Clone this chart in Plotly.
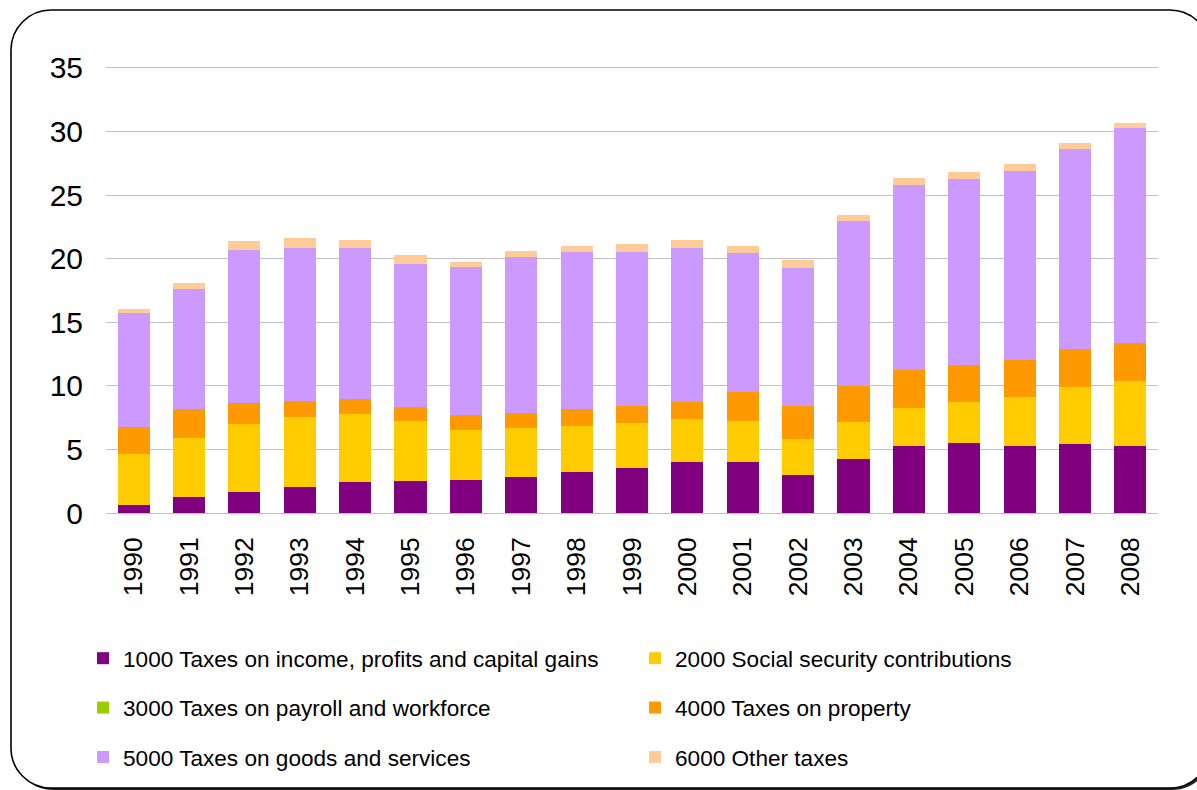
import plotly.graph_objects as go

years = ["1990", "1991", "1992", "1993", "1994", "1995", "1996", "1997", "1998", "1999",
         "2000", "2001", "2002", "2003", "2004", "2005", "2006", "2007", "2008"]

tax_1000 = [0.60, 1.23, 1.63, 2.02, 2.41, 2.49, 2.57, 2.81, 3.20, 3.54,
            4.01, 4.01, 2.99, 4.25, 5.27, 5.51, 5.27, 5.43, 5.27]
tax_2000 = [4.02, 4.65, 5.35, 5.51, 5.36, 4.73, 3.94, 3.86, 3.62, 3.54,
            3.39, 3.23, 2.83, 2.91, 2.99, 3.23, 3.86, 4.49, 5.12]
tax_3000 = [0, 0, 0, 0, 0, 0, 0, 0, 0, 0,
            0, 0, 0, 0, 0, 0, 0, 0, 0]
tax_4000 = [2.13, 2.28, 1.66, 1.26, 1.18, 1.10, 1.18, 1.18, 1.34, 1.34,
            1.34, 2.28, 2.60, 2.83, 2.99, 2.91, 2.91, 2.99, 2.99]
tax_5000 = [8.97, 9.45, 12.04, 12.05, 11.89, 11.26, 11.65, 12.28, 12.36, 12.09,
            12.09, 10.92, 10.83, 12.96, 14.54, 14.61, 14.85, 15.71, 16.89]
tax_6000 = [0.32, 0.47, 0.71, 0.79, 0.63, 0.71, 0.40, 0.47, 0.48, 0.63,
            0.63, 0.55, 0.63, 0.48, 0.55, 0.55, 0.55, 0.47, 0.40]

series_names = [
    "1000 Taxes on income, profits and capital gains",
    "2000 Social security contributions",
    "3000 Taxes on payroll and workforce",
    "4000 Taxes on property",
    "5000 Taxes on goods and services",
    "6000 Other taxes",
]
series_values = [tax_1000, tax_2000, tax_3000, tax_4000, tax_5000, tax_6000]
series_colors = ["#800080", "#FFCC00", "#99CC00", "#FF9900", "#CC99FF", "#FFCC99"]
series_legend = ["legend", "legend2", "legend", "legend2", "legend", "legend2"]
y_ticks = [0, 5, 10, 15, 20, 25, 30, 35]

FONT = "Liberation Sans, Arial, sans-serif"
W, H = 1197, 790
L, R, T, B = 106, 1158, 66, 513  # plot area in pixels
Y_MAX = 35.15


def px(x):
    return (x - L) / (R - L)


def py(y):
    return (B - y) / (B - T)


def rounded_path(x0, y0, x1, y1, r):
    k = 0.5523 * r
    pts = [
        f"M{px(x0 + r)},{py(y0)}",
        f"L{px(x1 - r)},{py(y0)}",
        f"C{px(x1 - r + k)},{py(y0)} {px(x1)},{py(y0 + r - k)} {px(x1)},{py(y0 + r)}",
        f"L{px(x1)},{py(y1 - r)}",
        f"C{px(x1)},{py(y1 - r + k)} {px(x1 - r + k)},{py(y1)} {px(x1 - r)},{py(y1)}",
        f"L{px(x0 + r)},{py(y1)}",
        f"C{px(x0 + r - k)},{py(y1)} {px(x0)},{py(y1 - r + k)} {px(x0)},{py(y1 - r)}",
        f"L{px(x0)},{py(y0 + r)}",
        f"C{px(x0)},{py(y0 + r - k)} {px(x0 + r - k)},{py(y0)} {px(x0 + r)},{py(y0)}",
        "Z",
    ]
    return " ".join(pts)


fig = go.Figure()
for i, (name, vals, col, lg) in enumerate(zip(series_names, series_values, series_colors, series_legend)):
    fig.add_trace(go.Bar(
        x=years, y=vals, name=name,
        marker=dict(color=col, line=dict(width=0)),
        legend=lg, legendgroup=f"g{i}",
    ))

shapes = [
    dict(type="path", xref="paper", yref="paper", layer="below",
         path=rounded_path(13, 12, 1212, 790, 40),
         fillcolor="#222222", line=dict(width=0)),
    dict(type="path", xref="paper", yref="paper", layer="below",
         path=rounded_path(11, 10, 1210, 788, 40),
         fillcolor="white", line=dict(color="black", width=1.6)),
]

legend_common = dict(
    xanchor="left", yanchor="top",
    orientation="v", traceorder="grouped", tracegroupgap=17,
    font=dict(family=FONT, size=22.6, color="black"),
    bgcolor="rgba(0,0,0,0)", borderwidth=0,
)

fig.update_layout(
    width=W, height=H,
    margin=dict(l=L, r=W - R, t=T, b=H - B, pad=0, autoexpand=False),
    paper_bgcolor="white",
    plot_bgcolor="rgba(0,0,0,0)",
    barmode="stack",
    bargap=0.42,
    font=dict(family=FONT, color="black"),
    shapes=shapes,
    legend=dict(x=px(83), y=py(637), **legend_common),
    legend2=dict(x=px(635), y=py(637), **legend_common),
    xaxis=dict(
        tickangle=-90, tickfont=dict(family=FONT, size=26.5, color="black"),
        showgrid=False, showline=False, ticks="", ticklabelstandoff=18,
        fixedrange=True,
    ),
    yaxis=dict(
        range=[0, Y_MAX], tickvals=y_ticks,
        tickfont=dict(family=FONT, size=30, color="black"),
        showgrid=True, gridcolor="#BFBFBF", gridwidth=1,
        zeroline=True, zerolinecolor="#BFBFBF", zerolinewidth=1,
        showline=False, ticks="", ticklabelstandoff=22, fixedrange=True,
    ),
)

fig.write_html(
    "out.html",
    config={"displayModeBar": False},
    post_script="document.body.style.margin='0';document.body.style.overflow='hidden';",
)
